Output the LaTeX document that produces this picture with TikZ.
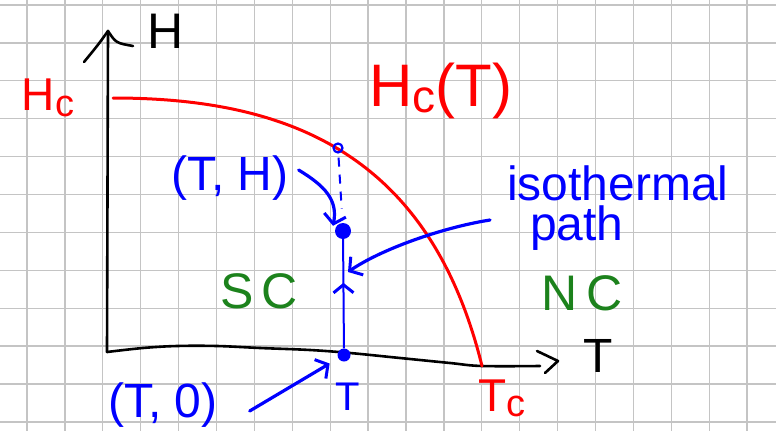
\documentclass[tikz,border=0pt]{standalone}
\usepackage{fontspec}
\setmainfont{Liberation Sans}
\usetikzlibrary{arrows.meta,decorations.markings}
\definecolor{gridgray}{RGB}{196,196,196}
\definecolor{inkred}{RGB}{255,0,0}
\definecolor{inkblue}{RGB}{0,0,255}
\definecolor{inkgreen}{RGB}{28,130,28}
\newcommand{\fs}[1]{\fontsize{#1}{#1}\selectfont}
\begin{document}
\begin{tikzpicture}[x=1pt,y=-1pt,
  gridline/.style={gridgray,line width=1.3pt},
  axis/.style={black,line width=2.6pt,line cap=round,line join=round},
  redline/.style={inkred,line width=3pt,line cap=round},
  blueline/.style={inkblue,line width=2pt},
  bluearrow/.style={inkblue,line width=3.2pt,line cap=round,
    -{Straight Barb[length=9pt,width=22pt,line width=3pt]}},
  lbl/.style={inner sep=0pt,outer sep=0pt},
  bigdot/.style={circle,fill=inkblue,inner sep=0pt,minimum size=#1},
  opendot/.style={circle,draw=inkblue,line width=2.2pt,inner sep=0pt,minimum size=9pt}]
\useasboundingbox (0,0) rectangle (776,431);
\fill[white] (0,0) rectangle (776,431);
% grid
\foreach \i in {0,...,20} \draw[gridline] ({27+37.9*\i},0) -- ({27+37.9*\i},431);
\foreach \j in {0,...,11} \draw[gridline] (0,{5+37.9*\j}) -- (776,{5+37.9*\j});
% axes
\coordinate (O) at (107,352);
\coordinate (Htop) at (108,31);
\draw[axis] (O) -- (Htop);
\draw[axis] ([shift={(-24,31)}]Htop) .. controls ([shift={(-10,14)}]Htop) .. (Htop)
  .. controls ([shift={(8,12)}]Htop) .. ([shift={(25,15)}]Htop);
\draw[axis] plot[smooth,tension=0.6] coordinates {(107,352) (143,348) (177,346) (217,346) (260,348) (310,350) (350,353) (400,358) (450,363) (482,366) (540,366)};
\coordinate (Ttip) at (558,361);
\draw[axis] ([shift={(-21,-10)}]Ttip) -- (Ttip) -- ([shift={(-13,12)}]Ttip);
\node[lbl,font=\fs{50}] (Hlab) at (166,31) {H};
\node[lbl,font=\fs{48}] (Tlab) at (598,356) {T};
% critical field curve
\coordinate (HcStart) at (113,98);
\coordinate (TcEnd) at (482,366);
\draw[redline] (HcStart) .. controls (290,98) and (430,155) .. (TcEnd);
\node[lbl,text=inkred,font=\fs{46}] (Hc) at (48,98) {H\raisebox{-6pt}{\fs{38}c}};
\node[lbl,text=inkred,font=\fs{60}] (HcT) at (441,91) {H\raisebox{-6pt}{\fs{46}c}(T)};
\node[lbl,text=inkred,font=\fs{46}] (Tc) at (502,398) {T\raisebox{-5pt}{\fs{38}c}};
% phase labels
\node[lbl,text=inkgreen,font=\fs{50}] (SC) at (259,291) {S\,C};
\node[lbl,text=inkgreen,font=\fs{50}] (NC) at (582,293) {N\,C};
% path points
\node[opendot] (Q) at (338,148) {};
\node[bigdot=16pt] (P) at (343,231) {};
\node[bigdot=13pt] (P0) at (344,355) {};
\draw[inkblue,line width=2pt,dash pattern=on 9pt off 8pt,shorten <=4pt,shorten >=14pt] (Q) -- (P);
\draw[blueline,postaction={decorate},decoration={markings,
  mark=at position 0.6 with {\arrow{Straight Barb[length=8pt,width=20pt,line width=3pt]}}}]
  (P0) -- (P);
% labels and pointers
\node[lbl,text=inkblue,font=\fs{48}] (TH) at (230,178) {(T, H)};
\draw[bluearrow] ([xshift=10pt,yshift=8pt]TH.east) .. controls (325,186) and (338,200) .. ([xshift=-10pt,yshift=-3pt]P.north);
\node[lbl,text=inkblue,font=\fs{48}] (T0) at (163,405) {(T, 0)};
\draw[bluearrow,shorten >=10pt] ([xshift=32pt,yshift=-6pt]T0.east) -- (P0);
\node[lbl,text=inkblue,font=\fs{40}] (Tbar) at (348,397) {T};
\node[lbl,text=inkblue,font=\fs{48},align=left,anchor=north west] (iso) at (507,166)
  {isothermal\\[-8pt]\hspace*{23pt}path};
\coordinate (isoTail) at (490,220);
\coordinate (isoHead) at (348,272);
\draw[bluearrow] (isoTail) .. controls (440,228) and (380,250) .. (isoHead);
\end{tikzpicture}
\end{document}
